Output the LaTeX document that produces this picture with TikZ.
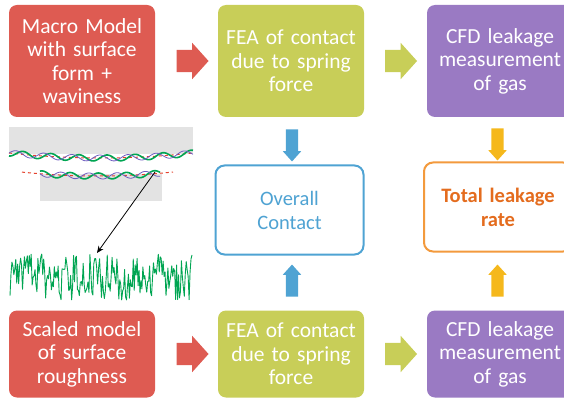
\documentclass[tikz,border=0pt]{standalone}
\usepackage{fontspec}
\setmainfont{Carlito}
\usetikzlibrary{shapes.arrows,arrows.meta}

\definecolor{boxred}{HTML}{DE5B52}
\definecolor{boxlime}{HTML}{C8CE58}
\definecolor{boxpurple}{HTML}{9A7AC3}
\definecolor{boxblue}{HTML}{4FA3D3}
\definecolor{boxorange}{HTML}{F39A3D}
\definecolor{textorange}{HTML}{E46C1E}
\definecolor{boxyellow}{HTML}{F5B81C}
\definecolor{plate}{HTML}{E3E3E3}
\definecolor{wavepurple}{HTML}{6E5CC0}
\definecolor{wavegreen}{HTML}{00A552}
\definecolor{formred}{HTML}{E4432E}

\tikzset{
  stage/.style={rounded corners=8pt, minimum width=146pt, text width=140pt,
    align=center, text=white, inner sep=0pt,
    font=\fontsize{21.5}{23.5}\selectfont},
  result/.style={draw, line width=2pt, rounded corners=9pt, fill=white,
    minimum width=148pt, minimum height=89pt, text width=140pt, align=center,
    inner sep=0pt, font=\fontsize{20.5}{24}\selectfont},
  hblock/.style={single arrow, minimum height=32pt, inner xsep=0pt, inner ysep=11pt,
    single arrow head extend=7pt, single arrow tip angle=96},
  vblock/.style={single arrow, minimum height=32pt, inner xsep=6pt, inner ysep=0pt,
    single arrow head extend=3pt, single arrow tip angle=84},
}

\begin{document}
\begin{tikzpicture}[x=1pt,y=-1pt]
  \useasboundingbox (0,0) rectangle (564,398);
  \clip (0,0) rectangle (564,398);

  % top row: macro model
  \node (macro) at (82,61) [stage, fill=boxred, minimum height=112pt] {Macro Model\\with surface\\form +\\waviness};
  \node (feaT) at (291,61) [stage, fill=boxlime, minimum height=112pt] {FEA of contact\\due to spring\\force};
  \node (cfdT) at (500,61) [stage, fill=boxpurple, minimum height=112pt] {CFD leakage\\measurement\\of gas};
  \node (r1) at (187.5,61) [hblock, fill=boxred] {};
  \node (l1) at (396,61) [hblock, fill=boxlime] {};

  % middle: results
  \node (contact) at (289.5,210) [result, draw=boxblue, text=boxblue] {Overall\\Contact};
  \node (leak) at (498,207) [result, draw=boxorange, text=textorange,
    font=\fontsize{20.5}{24}\selectfont\bfseries] {Total leakage\\rate};
  \node (b1) at (292,142) [vblock, fill=boxblue, shape border rotate=270] {};
  \node (y1) at (497.5,141) [vblock, fill=boxyellow, shape border rotate=270] {};
  \node (b2) at (292,284) [vblock, fill=boxblue, shape border rotate=90] {};
  \node (y2) at (497.5,284) [vblock, fill=boxyellow, shape border rotate=90] {};

  % bottom row: roughness model
  \node (scaled) at (82,354) [stage, fill=boxred, minimum height=87pt] {Scaled model\\of surface\\roughness};
  \node (feaB) at (291,354) [stage, fill=boxlime, minimum height=87pt] {FEA of contact\\due to spring\\force};
  \node (cfdB) at (500,354) [stage, fill=boxpurple, minimum height=87pt] {CFD leakage\\measurement\\of gas};
  \node (r2) at (187.5,354) [hblock, fill=boxred] {};
  \node (l2) at (396,354) [hblock, fill=boxlime] {};

  % two wavy plates
  \fill[plate] (9,127) rectangle (193,154);
  \fill[plate] (40,174) rectangle (162,201);
  \draw[formred, dashed, line width=1pt] plot[domain=9:193, samples=60] (\x,{158-5*((\x-101)/92)^2});
  \draw[wavegreen, line width=1.6pt] plot[domain=9:193, samples=160] (\x,{158-5*((\x-101)/92)^2+3*sin((\x-9)/28*360+90)});
  \draw[wavepurple, line width=0.8pt] plot[domain=9:193, samples=160] (\x,{158-5*((\x-101)/92)^2-3*sin((\x-9)/28*360)});
  \draw[formred, dashed, line width=1pt] plot[domain=22:173, samples=60] (\x,{176-4*((\x-97)/76)^2});
  \draw[wavegreen, line width=1.6pt] plot[domain=40:160, samples=120] (\x,{176-4*((\x-97)/76)^2-3*sin((\x-40)/28*360+60)});
  \draw[wavepurple, line width=0.8pt] plot[domain=40:160, samples=120] (\x,{176-4*((\x-97)/76)^2+3*sin((\x-40)/28*360)});

  % zoom onto the roughness
  \coordinate (asperity) at (155,172);
  \coordinate (rough) at (97,253);
  \draw[-{Stealth[length=7pt,width=6pt]}, line width=0.8pt] (asperity) -- (rough);
  \pgfmathsetseed{4}
  \draw[wavegreen, line width=0.9pt, line join=round] plot[domain=10:192, samples=190] (\x,{277+23*rand});
\end{tikzpicture}
\end{document}
